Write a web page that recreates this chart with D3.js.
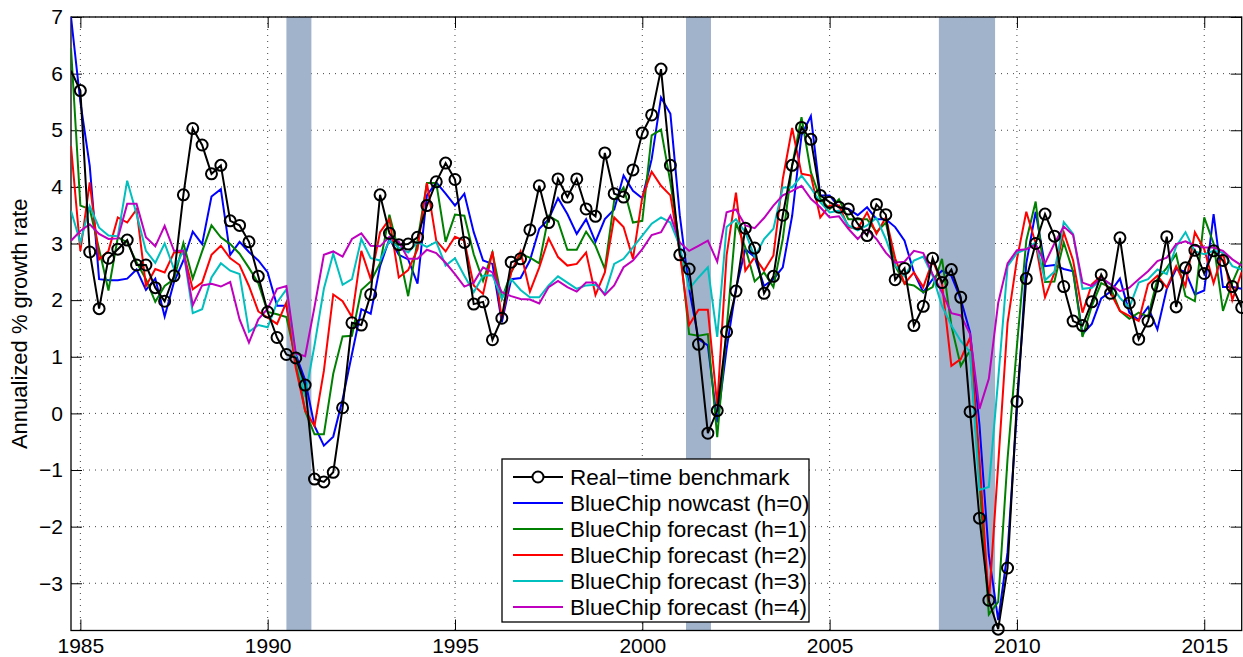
<!DOCTYPE html>
<meta charset="utf-8">
<style>
  body { margin: 0; background: #fff; }
  svg text { font-family: "Liberation Sans", Arial, Helvetica, sans-serif; fill: #000; }
  .axis line { stroke: #000; }
  .grid line { stroke: #444; stroke-width: 1; stroke-dasharray: 1,5; }
</style>
<body>
<svg class="chart" width="1243" height="657"></svg>
<script src="https://cdn.jsdelivr.net/npm/d3@7/dist/d3.min.js"></script>
<script>

// first observation is 1984Q4, quarterly after that
var startYear = 1984.75;

var benchmark = [
  6.05, 5.70, 2.85, 1.85, 2.74, 2.90, 3.06, 2.62, 2.62, 2.22,
  1.98, 2.43, 3.86, 5.03, 4.74, 4.23, 4.38, 3.40, 3.32, 3.03,
  2.42, 1.79, 1.34, 1.04, 0.98, 0.50, -1.16, -1.21, -1.04, 0.10,
  1.60, 1.56, 2.10, 3.86, 3.18, 2.98, 2.99, 3.11, 3.67, 4.09,
  4.42, 4.13, 3.02, 1.93, 1.97, 1.30, 1.68, 2.67, 2.73, 3.24,
  4.02, 3.37, 4.14, 3.82, 4.14, 3.61, 3.48, 4.60, 3.88, 3.82,
  4.30, 4.95, 5.27, 6.08, 4.38, 2.80, 2.55, 1.22, -0.35, 0.05,
  1.44, 2.16, 3.27, 2.92, 2.12, 2.42, 3.50, 4.38, 5.05, 4.84,
  3.85, 3.73, 3.64, 3.61, 3.35, 3.14, 3.69, 3.51, 2.36, 2.56,
  1.55, 1.89, 2.74, 2.31, 2.54, 2.05, 0.03, -1.85, -3.30, -3.81,
  -2.73, 0.21, 2.38, 3.00, 3.52, 3.13, 2.24, 1.63, 1.55, 1.97,
  2.45, 2.12, 3.10, 1.95, 1.31, 1.63, 2.25, 3.12, 1.88, 2.57,
  2.88, 2.47, 2.87, 2.70, 2.24, 1.87
];

var nowcast = [
  7.00, 5.50, 4.37, 2.37, 2.35, 2.35, 2.38, 2.54, 2.18, 2.38,
  1.71, 2.32, 2.70, 3.21, 2.99, 3.83, 3.96, 2.80, 3.03, 2.85,
  2.70, 2.49, 1.90, 1.90, 1.04, 0.59, -0.22, -0.57, -0.41, 0.25,
  1.05, 1.84, 1.76, 2.60, 3.08, 2.80, 2.72, 2.29, 3.85, 4.08,
  3.88, 3.67, 3.88, 3.20, 2.70, 2.64, 1.61, 2.37, 2.39, 2.70,
  3.26, 3.43, 3.80, 3.52, 3.17, 3.43, 3.03, 3.43, 3.60, 4.20,
  3.93, 3.80, 4.49, 5.58, 5.29, 3.50, 2.20, 1.31, 1.20, -0.16,
  1.14, 2.20, 2.90, 2.76, 2.25, 2.37, 2.58, 3.49, 4.91, 5.25,
  3.85, 3.85, 3.64, 3.61, 3.50, 3.64, 3.43, 3.43, 3.29, 3.05,
  2.49, 2.14, 2.37, 2.52, 2.43, 2.02, 1.43, -0.20, -2.50, -3.65,
  -2.45, 0.05, 2.65, 3.56, 2.60, 2.62, 2.55, 2.51, 1.40, 1.58,
  2.03, 2.15, 2.38, 1.78, 1.65, 1.88, 1.48, 2.20, 2.55, 2.50,
  2.10, 2.17, 3.52, 2.23, 2.23, 2.20
];

var forecastH1 = [
  6.45, 3.67, 3.61, 2.90, 2.17, 3.11, 3.02, 2.67, 2.37, 1.97,
  2.25, 2.37, 3.01, 2.38, 2.86, 3.32, 3.11, 2.99, 2.82, 2.57,
  2.30, 1.79, 1.75, 1.70, 0.96, 0.04, -0.37, -0.37, 0.70, 1.36,
  1.37, 2.18, 2.33, 2.65, 3.51, 2.85, 2.07, 3.05, 4.07, 4.07,
  3.03, 3.51, 3.49, 2.81, 2.34, 2.84, 2.02, 2.49, 2.81, 2.75,
  2.65, 3.49, 3.39, 2.89, 2.89, 3.21, 2.96, 2.55, 3.76, 3.99,
  3.37, 3.40, 4.91, 5.01, 4.08, 2.96, 1.40, 1.37, 1.40, -0.42,
  1.49, 3.37, 2.93, 2.33, 2.49, 2.23, 3.08, 4.38, 5.23, 4.26,
  3.79, 3.61, 3.78, 3.43, 3.43, 3.43, 3.20, 3.37, 2.61, 2.29,
  2.26, 2.14, 2.23, 2.73, 1.55, 0.84, 1.11, -1.20, -3.55, -3.33,
  -0.80, 1.19, 3.05, 3.74, 2.32, 2.33, 3.02, 2.50, 1.35, 1.90,
  2.30, 2.22, 1.81, 1.67, 1.78, 1.71, 2.37, 2.57, 2.81, 2.07,
  1.98, 3.46, 3.00, 1.81, 2.31, 2.69
];

var forecastH2 = [
  4.72, 2.87, 4.08, 2.72, 2.87, 3.46, 3.37, 3.60, 2.25, 2.55,
  2.49, 2.84, 2.85, 2.19, 2.31, 2.80, 2.96, 2.74, 2.62, 2.25,
  1.80, 1.69, 1.58, 1.96, 0.80, 0.05, -0.22, 0.75, 2.10, 1.98,
  1.70, 2.87, 2.37, 3.20, 3.43, 2.40, 2.53, 2.90, 4.07, 3.05,
  2.86, 3.12, 3.05, 2.26, 2.11, 2.86, 1.67, 2.49, 2.86, 2.15,
  2.58, 3.09, 2.76, 2.61, 2.64, 2.84, 2.09, 2.49, 3.46, 3.29,
  2.73, 3.82, 4.27, 4.02, 3.85, 2.84, 1.56, 1.83, 1.83, 0.14,
  2.79, 3.90, 2.52, 2.76, 2.52, 2.79, 4.14, 5.04, 4.23, 4.20,
  3.46, 3.67, 3.67, 3.29, 3.26, 3.55, 3.17, 3.46, 2.74, 2.29,
  2.49, 2.23, 2.70, 2.29, 0.84, 0.96, 1.34, -0.80, -3.35, -0.90,
  1.60, 2.72, 3.56, 3.00, 2.05, 2.48, 3.20, 2.70, 1.78, 2.28,
  2.43, 2.13, 1.81, 1.72, 1.63, 2.28, 2.43, 2.22, 2.60, 2.25,
  3.20, 2.90, 2.30, 2.85, 2.00, 2.50
];

var forecastH3 = [
  3.58, 3.02, 3.66, 3.28, 3.14, 3.13, 4.11, 3.52, 2.87, 2.66,
  3.00, 2.55, 2.87, 1.77, 1.84, 2.40, 2.65, 2.52, 2.46, 1.44,
  1.56, 1.52, 1.96, 2.19, 1.00, 0.30, 1.20, 2.20, 2.82, 2.27,
  2.37, 3.08, 2.74, 2.70, 3.05, 2.93, 2.84, 3.02, 2.94, 3.03,
  2.61, 2.74, 2.43, 2.14, 2.43, 2.44, 2.03, 2.37, 2.18, 2.05,
  2.05, 2.26, 2.42, 2.31, 2.20, 2.26, 2.27, 2.11, 2.64, 2.73,
  2.93, 3.14, 3.35, 3.46, 3.37, 2.96, 2.20, 2.40, 2.58, 1.35,
  3.29, 3.43, 3.20, 2.76, 3.08, 3.26, 3.99, 3.99, 4.20, 3.98,
  3.73, 3.55, 3.58, 3.32, 3.23, 3.32, 3.45, 3.08, 2.61, 2.42,
  2.70, 2.77, 2.43, 1.90, 1.55, 1.28, 1.08, -1.35, -1.30, 0.60,
  2.60, 2.83, 2.90, 3.02, 2.35, 2.50, 3.38, 3.17, 2.20, 2.22,
  2.37, 2.28, 2.04, 1.87, 2.31, 2.37, 2.54, 2.46, 2.95, 3.20,
  2.86, 2.81, 2.87, 2.84, 2.60, 2.54
];

var forecastH4 = [
  3.05, 3.22, 3.34, 3.17, 3.08, 3.09, 3.70, 3.70, 3.11, 2.95,
  3.31, 2.87, 2.87, 1.91, 2.26, 2.29, 2.24, 2.32, 1.66, 1.25,
  1.66, 1.85, 2.20, 2.25, 1.06, 1.01, 1.88, 2.80, 2.86, 2.77,
  3.08, 3.18, 2.96, 2.95, 3.12, 3.03, 2.73, 2.73, 2.89, 2.83,
  2.66, 2.46, 2.24, 2.31, 2.58, 2.49, 2.14, 2.07, 2.02, 2.01,
  1.94, 2.23, 2.34, 2.23, 2.15, 2.31, 2.31, 2.09, 2.26, 2.58,
  2.70, 2.90, 3.15, 3.20, 3.49, 3.02, 2.87, 2.96, 3.05, 2.68,
  3.55, 3.60, 3.32, 3.27, 3.45, 3.67, 3.85, 3.93, 4.02, 3.79,
  3.64, 3.46, 3.48, 3.26, 3.08, 3.25, 3.08, 2.84, 2.66, 2.68,
  2.87, 2.83, 2.46, 2.14, 1.77, 1.73, 1.40, 0.08, 0.61, 1.95,
  2.65, 2.88, 2.90, 2.98, 2.65, 3.00, 3.30, 3.15, 2.31, 2.25,
  2.40, 2.28, 2.16, 2.22, 2.37, 2.51, 2.69, 2.75, 2.99, 3.04,
  2.96, 2.93, 2.93, 2.87, 2.72, 2.61
];

// NBER recessions (start, end) in decimal years
var recessions = [[1990.5, 1991.1667], [2001.1667, 2001.8333], [2007.9167, 2009.4167]];

var xTicks = [1985, 1990, 1995, 2000, 2005, 2010, 2015];
var yTicks = [-3, -2, -1, 0, 1, 2, 3, 4, 5, 6, 7];

var seriesNames = ["Real\u2212time benchmark", "BlueChip nowcast (h=0)", "BlueChip forecast (h=1)",
                   "BlueChip forecast (h=2)", "BlueChip forecast (h=3)", "BlueChip forecast (h=4)"];
var seriesColors = ["#000000", "#0000ff", "#008000", "#ff0000", "#00bfbf", "#bf00bf"];
var seriesData = [benchmark, nowcast, forecastH1, forecastH2, forecastH3, forecastH4];

// plot box (window.top is read-only, so use other names)
var box = { left: 71, right: 1241.7, top: 17, bottom: 630.5 };

var svg = d3.select(".chart");

var x = d3.scaleLinear().domain([startYear, 2016]).range([box.left, box.right]);
var y = d3.scaleLinear().domain([-3.834, 7]).range([box.bottom, box.top]);

function fmt(d) { return d < 0 ? "\u2212" + Math.abs(d) : "" + d; }
function quarter(i) { return startYear + 0.25 * i; }

svg.append("clipPath").attr("id", "plotclip")
  .append("rect")
    .attr("x", box.left).attr("y", box.top)
    .attr("width", box.right - box.left).attr("height", box.bottom - box.top);

// grid
var grid = svg.append("g").attr("class", "grid");
grid.selectAll(".gy").data(yTicks).enter().append("line")
    .attr("x1", box.left).attr("x2", box.right)
    .attr("y1", function(d) { return y(d); })
    .attr("y2", function(d) { return y(d); });
grid.selectAll(".gx").data(xTicks).enter().append("line")
    .attr("y1", box.top).attr("y2", box.bottom)
    .attr("x1", function(d) { return x(d); })
    .attr("x2", function(d) { return x(d); });

// recession shading
svg.append("g").selectAll("rect")
    .data(recessions)
  .enter().append("rect")
    .attr("x", function(d) { return x(d[0]); })
    .attr("y", box.top)
    .attr("width", function(d) { return x(d[1]) - x(d[0]); })
    .attr("height", box.bottom - box.top)
    .attr("fill", "#a0b3cb");

// axes, ticks pointing inward
var xAxis = d3.axisBottom(x).tickValues(xTicks).tickFormat(d3.format("d"))
    .tickSizeInner(-11).tickSizeOuter(0).tickPadding(8);
var gx = svg.append("g").attr("class", "axis")
    .attr("transform", "translate(0," + box.bottom + ")")
    .call(xAxis);
gx.select(".domain").remove();
gx.selectAll("text").style("font-size", "21px");

var yAxis = d3.axisLeft(y).tickValues(yTicks).tickFormat(fmt)
    .tickSizeInner(-11).tickSizeOuter(0).tickPadding(8);
var gy = svg.append("g").attr("class", "axis")
    .attr("transform", "translate(" + box.left + ",0)")
    .call(yAxis);
gy.select(".domain").remove();
gy.selectAll("text").style("font-size", "21px");

var gxt = svg.append("g").attr("class", "axis")
    .attr("transform", "translate(0," + box.top + ")")
    .call(d3.axisTop(x).tickValues(xTicks).tickFormat("").tickSizeInner(-11).tickSizeOuter(0));
gxt.select(".domain").remove();

var gyr = svg.append("g").attr("class", "axis")
    .attr("transform", "translate(" + box.right + ",0)")
    .call(d3.axisRight(y).tickValues(yTicks).tickFormat("").tickSizeInner(-11).tickSizeOuter(0));
gyr.select(".domain").remove();

// frame
svg.append("rect")
    .attr("x", box.left).attr("y", box.top)
    .attr("width", box.right - box.left).attr("height", box.bottom - box.top)
    .attr("fill", "none").attr("stroke", "#000").attr("stroke-width", 1.3);

// y label
svg.append("text")
    .attr("transform", "translate(27," + ((box.top + box.bottom) / 2) + ") rotate(-90)")
    .style("text-anchor", "middle")
    .style("font-size", "22px")
    .text("Annualized % growth rate");

// series
var line = d3.line()
    .x(function(d, i) { return x(quarter(i)); })
    .y(function(d) { return y(d); });

var plot = svg.append("g");
// forecasts first, benchmark on top
[1, 2, 3, 4, 5, 0].forEach(function(k) {
  plot.append("path")
      .datum(seriesData[k])
      .attr("clip-path", "url(#plotclip)")
      .attr("fill", "none")
      .attr("stroke", seriesColors[k])
      .attr("stroke-width", 2)
      .attr("stroke-linejoin", "miter")
      .attr("d", line);
});

// markers: the reference shows none on the left edge point
var markerPts = benchmark.map(function(v, i) { return { v: v, i: i }; })
    .filter(function(p) { return p.i > 0; });

plot.selectAll("circle")
    .data(markerPts)
  .enter().append("circle")
    .attr("cx", function(p) { return x(quarter(p.i)); })
    .attr("cy", function(p) { return y(p.v); })
    .attr("r", 5.5)
    .attr("fill", "none")
    .attr("stroke", "#000")
    .attr("stroke-width", 2);

// legend
var legend = svg.append("g");
legend.append("rect")
    .attr("x", 502).attr("y", 459)
    .attr("width", 307).attr("height", 163)
    .attr("fill", "#fff").attr("stroke", "#000").attr("stroke-width", 1.3);

var rows = legend.selectAll(".row")
    .data(seriesNames)
  .enter().append("g")
    .attr("transform", function(d, i) { return "translate(0," + (477 + 26 * i) + ")"; });

rows.append("line")
    .attr("x1", 513).attr("x2", 563)
    .attr("stroke", function(d, i) { return seriesColors[i]; })
    .attr("stroke-width", 2);

rows.filter(function(d, i) { return i === 0; })
  .append("circle")
    .attr("cx", 538).attr("r", 5.5)
    .attr("fill", "#fff").attr("stroke", "#000").attr("stroke-width", 2);

rows.append("text")
    .attr("x", 570)
    .attr("dy", "0.35em")
    .style("font-size", "22.5px")
    .text(function(d) { return d; });

</script>
</body>
